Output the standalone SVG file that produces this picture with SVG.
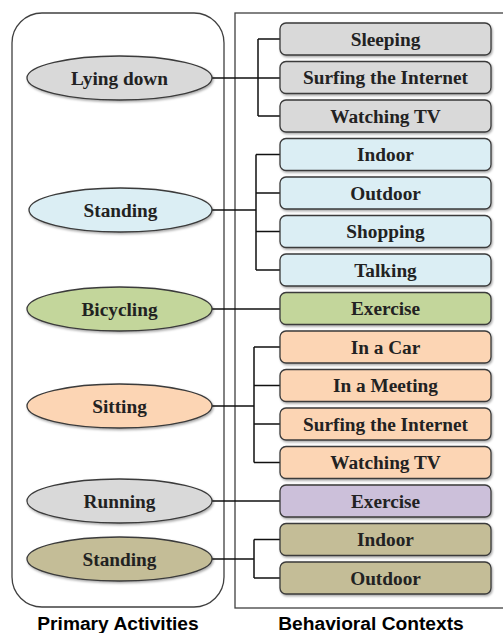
<svg xmlns="http://www.w3.org/2000/svg" width="503" height="633" viewBox="0 0 503 633">
<style>
.frame{fill:none;stroke:#404040;stroke-width:1.3}
.n{stroke:#3a3a3a;stroke-width:1.3;filter:url(#sh)}
.t{font-family:"Liberation Serif",serif;font-weight:bold;font-size:19.3px;fill:#222;text-anchor:middle;dominant-baseline:central}
.cap{font-family:"Liberation Sans",sans-serif;font-weight:bold;font-size:19.2px;fill:#000;text-anchor:middle}
.c{fill:none;stroke:#111;stroke-width:1.5}
.gray{fill:#d9d9d9}.blue{fill:#dbeef4}.green{fill:#c3d69b}.orange{fill:#fcd5b4}.purple{fill:#ccc0da}.olive{fill:#c4bd97}
</style>
<defs>
<filter id="sh" x="-10%" y="-20%" width="120%" height="150%">
<feDropShadow dx="1" dy="1.5" stdDeviation="1" flood-color="#000" flood-opacity="0.35"/>
</filter>
</defs>
<rect class="frame" x="12" y="13" width="212" height="594" rx="30"/>
<rect class="frame" x="235" y="13" width="275" height="595"/>
<g id="connectors">
<path class="c" d="M212,78 H280 M258,39 V116 M258,39 H280 M258,116 H280"/>
<path class="c" d="M212,210 H256 M256,154.5 V270 M256,154.5 H280 M256,193 H280 M256,231.5 H280 M256,270 H280"/>
<path class="c" d="M212,309 H280"/>
<path class="c" d="M212,406 H254 M254,347 V462.5 M254,347 H280 M254,385.5 H280 M254,424 H280 M254,462.5 H280"/>
<path class="c" d="M212,501 H280"/>
<path class="c" d="M212,559 H254 M254,539.5 V578 M254,539.5 H280 M254,578 H280"/>
</g>
<g id="a1"><ellipse class="n gray" cx="119.5" cy="78" rx="92.5" ry="22"/><text class="t" x="119.5" y="78">Lying down</text></g>
<g id="a2"><ellipse class="n blue" cx="120.5" cy="210" rx="91.5" ry="22"/><text class="t" x="120.5" y="210">Standing</text></g>
<g id="a3"><ellipse class="n green" cx="119.5" cy="309" rx="92.5" ry="22"/><text class="t" x="119.5" y="309">Bicycling</text></g>
<g id="a4"><ellipse class="n orange" cx="119.5" cy="406" rx="92.5" ry="22"/><text class="t" x="119.5" y="406">Sitting</text></g>
<g id="a5"><ellipse class="n gray" cx="119.5" cy="501" rx="92.5" ry="22"/><text class="t" x="119.5" y="501">Running</text></g>
<g id="a6"><ellipse class="n olive" cx="119.5" cy="559" rx="92.5" ry="22"/><text class="t" x="119.5" y="559">Standing</text></g>
<g id="c1"><rect class="n gray" x="280" y="23" width="211" height="32" rx="6"/><text class="t" x="385.5" y="39">Sleeping</text></g>
<g id="c2"><rect class="n gray" x="280" y="61.5" width="211" height="32" rx="6"/><text class="t" x="385.5" y="77.5">Surfing the Internet</text></g>
<g id="c3"><rect class="n gray" x="280" y="100" width="211" height="32" rx="6"/><text class="t" x="385.5" y="116">Watching TV</text></g>
<g id="c4"><rect class="n blue" x="280" y="138.5" width="211" height="32" rx="6"/><text class="t" x="385.5" y="154.5">Indoor</text></g>
<g id="c5"><rect class="n blue" x="280" y="177" width="211" height="32" rx="6"/><text class="t" x="385.5" y="193">Outdoor</text></g>
<g id="c6"><rect class="n blue" x="280" y="215.5" width="211" height="32" rx="6"/><text class="t" x="385.5" y="231.5">Shopping</text></g>
<g id="c7"><rect class="n blue" x="280" y="254" width="211" height="32" rx="6"/><text class="t" x="385.5" y="270">Talking</text></g>
<g id="c8"><rect class="n green" x="280" y="292.5" width="211" height="32" rx="6"/><text class="t" x="385.5" y="308.5">Exercise</text></g>
<g id="c9"><rect class="n orange" x="280" y="331" width="211" height="32" rx="6"/><text class="t" x="385.5" y="347">In a Car</text></g>
<g id="c10"><rect class="n orange" x="280" y="369.5" width="211" height="32" rx="6"/><text class="t" x="385.5" y="385.5">In a Meeting</text></g>
<g id="c11"><rect class="n orange" x="280" y="408" width="211" height="32" rx="6"/><text class="t" x="385.5" y="424">Surfing the Internet</text></g>
<g id="c12"><rect class="n orange" x="280" y="446.5" width="211" height="32" rx="6"/><text class="t" x="385.5" y="462.5">Watching TV</text></g>
<g id="c13"><rect class="n purple" x="280" y="485" width="211" height="32" rx="6"/><text class="t" x="385.5" y="501">Exercise</text></g>
<g id="c14"><rect class="n olive" x="280" y="523.5" width="211" height="32" rx="6"/><text class="t" x="385.5" y="539.5">Indoor</text></g>
<g id="c15"><rect class="n olive" x="280" y="562" width="211" height="32" rx="6"/><text class="t" x="385.5" y="578">Outdoor</text></g>
<text class="cap" x="118" y="630">Primary Activities</text>
<text class="cap" x="371" y="630">Behavioral Contexts</text>
</svg>
